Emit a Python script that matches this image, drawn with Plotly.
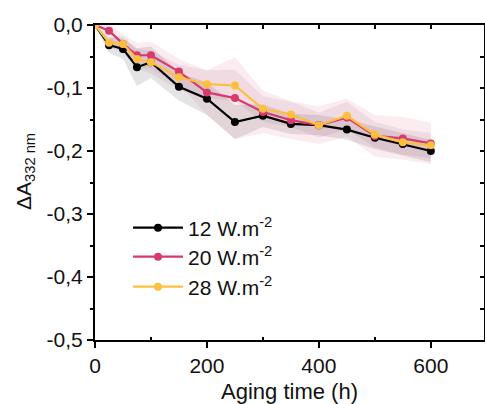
import plotly.graph_objects as go

time_h = [0, 25, 50, 75, 100, 150, 200, 250, 300, 350, 400, 450, 500, 550, 600]

dA_12 = [0, -0.032, -0.038, -0.067, -0.059, -0.098, -0.117, -0.154, -0.144, -0.157, -0.159, -0.166, -0.179, -0.189, -0.200]
dA_20 = [0, -0.009, -0.030, -0.048, -0.048, -0.074, -0.107, -0.116, -0.138, -0.151, -0.159, -0.147, -0.176, -0.180, -0.188]
dA_28 = [0, -0.028, -0.030, -0.054, -0.059, -0.083, -0.094, -0.096, -0.133, -0.142, -0.159, -0.144, -0.174, -0.186, -0.191]

sd_12 = [0, 0.012, 0.016, 0.030, 0.025, 0.022, 0.026, 0.027, 0.018, 0.016, 0.016, 0.016, 0.018, 0.018, 0.018]
sd_20 = [0, 0.010, 0.015, 0.020, 0.022, 0.020, 0.035, 0.065, 0.034, 0.030, 0.030, 0.030, 0.033, 0.034, 0.033]
sd_28 = [0, 0.008, 0.012, 0.015, 0.018, 0.020, 0.022, 0.025, 0.020, 0.020, 0.020, 0.022, 0.020, 0.020, 0.020]

y_tickvals = [0, -0.1, -0.2, -0.3, -0.4, -0.5]
y_ticktext = ["0,0", "-0,1", "-0,2", "-0,3", "-0,4", "-0,5"]
x_tickvals = [0, 200, 400, 600]
x_ticktext = ["0", "200", "400", "600"]

labels = ["12 W.m<sup>-2</sup>", "20 W.m<sup>-2</sup>", "28 W.m<sup>-2</sup>"]
colors = ["#000000", "#d63a6e", "#fcbf3e"]
band_colors = ["rgba(120,120,120,0.20)", "rgba(225,110,140,0.13)", "rgba(150,70,120,0.10)"]
series = [dA_12, dA_20, dA_28]
sds = [sd_12, sd_20, sd_28]
legend_ids = ["legend", "legend2", "legend3"]

FONT = "Liberation Sans, Arial, sans-serif"
TOP, BOTTOM = 25, 340

fig = go.Figure()

for y, sd, bc in zip(series, sds, band_colors):
    upper = [a + s for a, s in zip(y, sd)]
    lower = [a - s for a, s in zip(y, sd)]
    fig.add_trace(go.Scatter(
        x=time_h + time_h[::-1], y=upper + lower[::-1],
        fill="toself", fillcolor=bc, line=dict(width=0),
        mode="lines", hoverinfo="skip", showlegend=False))

for y, lab, c, lg in zip(series, labels, colors, legend_ids):
    fig.add_trace(go.Scatter(
        x=time_h, y=y, mode="lines+markers", name=lab,
        line=dict(color=c, width=2.2),
        marker=dict(color=c, size=8),
        legend=lg))

fig.add_trace(go.Scatter(x=[0], y=[0], xaxis="x2", yaxis="y2", mode="markers",
                         marker=dict(opacity=0), showlegend=False, hoverinfo="skip"))

def py_paper(py):
    return 1 - (py - TOP) / (BOTTOM - TOP)

def px_paper(px):
    return (px - 95) / 389

leg_common = dict(x=px_paper(128), xanchor="left", yanchor="middle", bgcolor="rgba(0,0,0,0)",
                  borderwidth=0, font=dict(family=FONT, size=21, color="#111"),
                  itemwidth=50)

fig.update_layout(
    width=485, height=404,
    margin=dict(l=95, r=1, t=TOP, b=404 - BOTTOM, autoexpand=False),
    plot_bgcolor="white", paper_bgcolor="white",
    font=dict(family=FONT, size=21, color="#111"),
    legend=dict(y=py_paper(228), **leg_common),
    legend2=dict(y=py_paper(257), **leg_common),
    legend3=dict(y=py_paper(287), **leg_common),
    xaxis=dict(range=[0, 695], tickvals=x_tickvals, ticktext=x_ticktext, ticks="outside", ticklen=6,
               tickwidth=1.5, tickcolor="black", showline=True, linecolor="black", linewidth=2,
               showgrid=False, zeroline=False, automargin=False,
               minor=dict(tickvals=[100, 300, 500], ticks="inside", ticklen=3, tickcolor="black", tickwidth=1.5),
               title=dict(text="Aging time (h)", font=dict(size=22), standoff=8),
               tickfont=dict(size=21)),
    yaxis=dict(range=[-0.5, 0], tickvals=y_tickvals, ticktext=y_ticktext, ticks="outside", ticklen=6,
               tickwidth=1.5, tickcolor="black", showline=True, linecolor="black", linewidth=2,
               showgrid=False, zeroline=False, automargin=False,
               minor=dict(dtick=0.05, ticks="outside", ticklen=3, tickcolor="black", tickwidth=1.5),
               tickfont=dict(size=21)),
    xaxis2=dict(overlaying="x", matches="x", side="top", tickvals=[0, 100, 200, 300, 400, 500, 600],
                ticks="inside", ticklen=4, tickwidth=1.5, tickcolor="black", showticklabels=False,
                showline=True, linecolor="black", linewidth=2, showgrid=False, zeroline=False,
                automargin=False),
    yaxis2=dict(overlaying="y", matches="y", side="right", dtick=0.05,
                ticks="inside", ticklen=4, tickwidth=1.5, tickcolor="black", showticklabels=False,
                showline=True, linecolor="black", linewidth=2, showgrid=False, zeroline=False,
                automargin=False),
    annotations=[dict(text="ΔA<sub>332 nm</sub>", textangle=-90, xref="paper", yref="paper",
                      x=px_paper(25), y=py_paper(172), xanchor="center", yanchor="middle",
                      showarrow=False, font=dict(family=FONT, size=21, color="#111"))],
)

fig.write_html("out.html", config={"displayModeBar": False},
               post_script="document.body.style.margin='0';document.body.style.overflow='hidden';")
